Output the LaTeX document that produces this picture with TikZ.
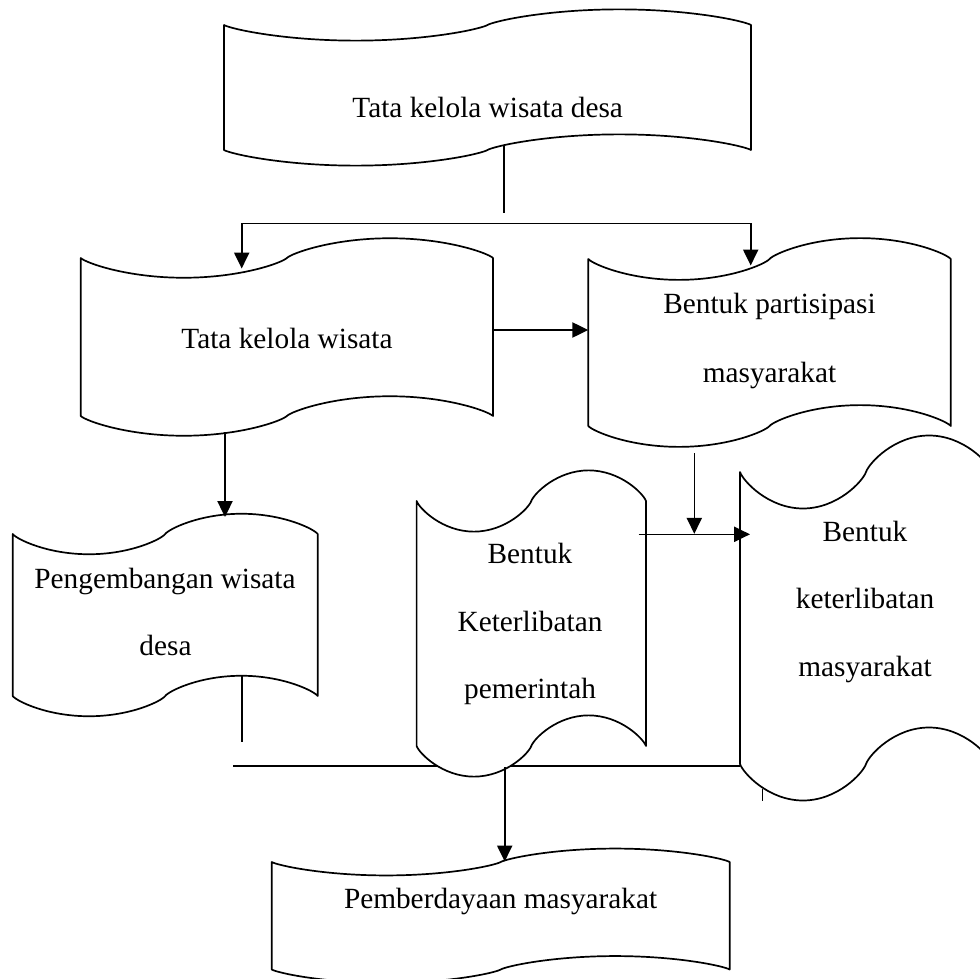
\documentclass[tikz,border=0pt]{standalone}
\usepackage{fontspec}
\setmainfont{Liberation Serif}
\usetikzlibrary{arrows.meta}
\tikzset{
  tapeline/.style={draw=black, fill=white, line width=0.85pt, line join=round},
  conn/.style={draw=black, line width=0.8pt},
  arr/.style={conn, -{Triangle[width=7.6pt,length=8pt]}},
  lbl/.style={anchor=base, inner sep=0pt, font=\fontsize{14.65pt}{17pt}\selectfont}
}
% #1 name, #2 x0, #3 top corner y, #4 width, #5 height (corner to corner)
\newcommand\tapebox[5]{%
  \pgfmathsetmacro\tpQ{#4/4}%
  \pgfmathsetmacro\tpA{#5/8}%
  \pgfmathsetmacro\tpS{0.05*\tpQ}%
  \pgfmathsetmacro\tpL{0.55*\tpQ}%
  \pgfmathsetmacro\tpV{0.25*\tpA}%
  \draw[tapeline] (#2,#3) coordinate (#1-tl)
     .. controls +(\tpS,\tpV) and +(-\tpL,0) .. ++(\tpQ,\tpA)
     .. controls +(\tpL,0) and +(-\tpS,\tpV) .. ++(\tpQ,-\tpA)
     .. controls +(\tpS,-\tpV) and +(-\tpL,0) .. ++(\tpQ,-\tpA)
     .. controls +(\tpL,0) and +(-\tpS,-\tpV) .. ++(\tpQ,\tpA) coordinate (#1-tr)
     -- ++(0,#5) coordinate (#1-br)
     .. controls +(-\tpS,-\tpV) and +(\tpL,0) .. ++(-\tpQ,-\tpA)
     .. controls +(-\tpL,0) and +(\tpS,-\tpV) .. ++(-\tpQ,\tpA)
     .. controls +(-\tpS,\tpV) and +(\tpL,0) .. ++(-\tpQ,\tpA)
     .. controls +(-\tpL,0) and +(\tpS,\tpV) .. ++(-\tpQ,-\tpA) coordinate (#1-bl)
     -- cycle;
  \path (#1-tl) -- (#1-br) node[midway, inner sep=0pt] (#1) {};
}
\begin{document}
\begin{tikzpicture}[x=0.5pt, y=-0.5pt]
\useasboundingbox (0,0) rectangle (980,979);
\clip (0,0) rectangle (980,979);

% line passing behind boxes
\coordinate (hL) at (233.3,765.7);
\coordinate (hR) at (740,765.7);
\draw[conn] (hL) -- (hR);

% boxes
\tapebox{top}{224}{25}{527}{125}
\tapebox{tkw}{80.7}{258}{412.3}{158}
\tapebox{bpm}{588.3}{259}{362.5}{167}
\tapebox{peng}{12.7}{534}{305}{162}
\tapebox{bkp}{416.6}{501}{229.4}{245}
\tapebox{bkm}{740}{472}{252}{292}
\tapebox{pem}{271.7}{862}{458}{107.5}

% texts
\node[lbl] (t1) at (487.7,118) {Tata kelola wisata desa};
\node[lbl] (t2) at (287,348) {Tata kelola wisata};
\node[lbl] (t3a) at (769.5,313) {Bentuk partisipasi};
\node[lbl] (t3b) at (769.5,382) {masyarakat};
\node[lbl] (t4a) at (165,588) {Pengembangan wisata};
\node[lbl] (t4b) at (165.5,655) {desa};
\node[lbl] (t5a) at (530,563.3) {Bentuk};
\node[lbl] (t5b) at (530,631.7) {Keterlibatan};
\node[lbl] (t5c) at (530,698.3) {pemerintah};
\node[lbl] (t6a) at (865,541.7) {Bentuk};
\node[lbl] (t6b) at (865,608.3) {keterlibatan};
\node[lbl] (t6c) at (865,676.7) {masyarakat};
\node[lbl] (t7) at (500.6,908) {Pemberdayaan masyarakat};

% connectors
\coordinate (a1) at (504,145);
\coordinate (a2) at (504,212.7);
\draw[conn] (a1) -- (a2);

\coordinate (b1) at (241.7,268.5);
\coordinate (b2) at (241.7,223.3);
\coordinate (b3) at (750.7,223.3);
\coordinate (b4) at (750.7,265.5);
\draw[conn, {Triangle[width=7.6pt,length=8pt]}-{Triangle[width=7.6pt,length=8pt]}] (b1) -- (b2) -- (b3) -- (b4);

\coordinate (c1) at (493,330);
\coordinate (c2) at (588.3,330);
\draw[arr] (c1) -- (c2);

\coordinate (d1) at (225,432);
\coordinate (d2) at (225,517);
\draw[arr] (d1) -- (d2);

\coordinate (e1) at (694.3,453.3);
\coordinate (e2) at (694.3,533.8);
\draw[arr] (e1) -- (e2);

\coordinate (f1) at (638.6,534.3);
\coordinate (f2) at (750,534.3);
\draw[arr] (f1) -- (f2);

\coordinate (g1) at (241.7,676);
\coordinate (g2) at (241.7,741.7);
\draw[conn] (g1) -- (g2);

\coordinate (i1) at (504.7,767);
\coordinate (i2) at (504.7,861.5);
\draw[arr] (i1) -- (i2);

\coordinate (j1) at (762.3,789.3);
\coordinate (j2) at (762.3,800.7);
\draw[conn] (j1) -- (j2);
\end{tikzpicture}
\end{document}
